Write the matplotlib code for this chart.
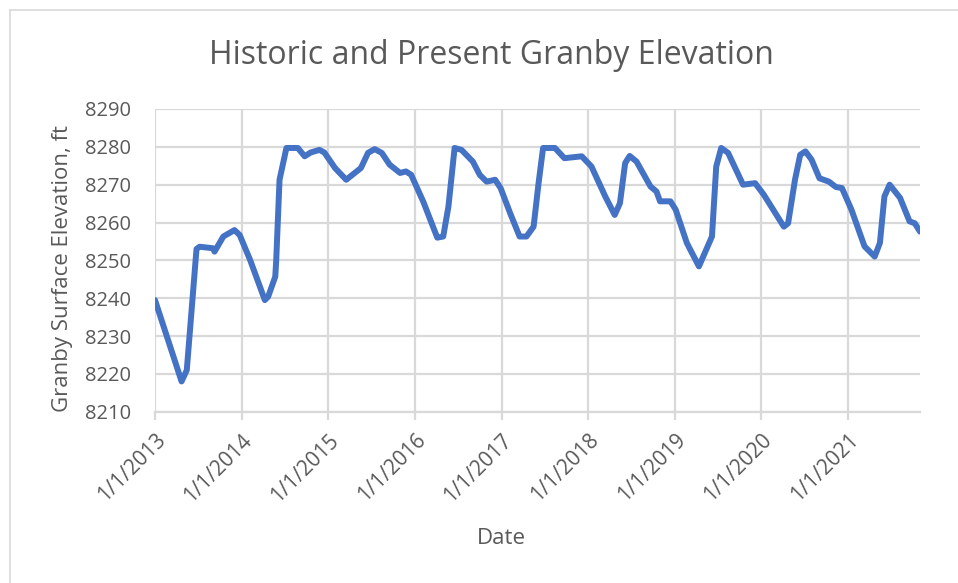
import matplotlib.pyplot as plt
import matplotlib.dates as mdates
import numpy as np
import pandas as pd
from matplotlib.lines import Line2D

# Granby reservoir surface elevation
dates = ['2013-01-01', '2013-04-23', '2013-05-15', '2013-06-25', '2013-07-08',
         '2013-09-02', '2013-09-09', '2013-10-16', '2013-12-02', '2013-12-24',
         '2014-02-06', '2014-04-09', '2014-04-23', '2014-05-23', '2014-05-27',
         '2014-06-10', '2014-07-09', '2014-08-26', '2014-09-24', '2014-10-19',
         '2014-11-25', '2014-12-16', '2015-01-30', '2015-03-18', '2015-05-19',
         '2015-06-18', '2015-07-16', '2015-08-15', '2015-09-17', '2015-10-31',
         '2015-11-25', '2015-12-17', '2016-02-06', '2016-04-05', '2016-04-30',
         '2016-05-22', '2016-06-17', '2016-07-16', '2016-09-02', '2016-10-01',
         '2016-10-30', '2016-12-05', '2016-12-28', '2017-02-06', '2017-03-18',
         '2017-04-16', '2017-05-16', '2017-06-06', '2017-06-25', '2017-08-14',
         '2017-09-23', '2017-12-05', '2018-01-15', '2018-03-14', '2018-04-23',
         '2018-05-15', '2018-06-06', '2018-06-25', '2018-07-24', '2018-09-21',
         '2018-10-16', '2018-10-31', '2018-12-14', '2019-01-05', '2019-02-21',
         '2019-04-13', '2019-06-07', '2019-06-25', '2019-07-16', '2019-08-14',
         '2019-10-16', '2019-12-06', '2020-01-12', '2020-04-05', '2020-04-23',
         '2020-05-22', '2020-06-13', '2020-07-05', '2020-07-31', '2020-09-02',
         '2020-10-12', '2020-11-10', '2020-12-06', '2021-01-15', '2021-03-11',
         '2021-04-23', '2021-05-15', '2021-06-03', '2021-06-25', '2021-08-08',
         '2021-09-17', '2021-10-09', '2021-10-31']
elevation = [8239.5, 8218.0, 8221.0, 8253.0, 8253.6,
             8253.2, 8252.3, 8256.3, 8258.0, 8256.7,
             8250.1, 8239.5, 8240.4, 8245.7, 8250.0,
             8271.3, 8279.7, 8279.7, 8277.5, 8278.5,
             8279.2, 8278.5, 8274.4, 8271.3, 8274.4,
             8278.4, 8279.4, 8278.4, 8275.3, 8273.1,
             8273.5, 8272.6, 8265.5, 8256.0, 8256.3,
             8264.2, 8279.7, 8279.2, 8276.1, 8272.6,
             8270.8, 8271.3, 8269.1, 8262.5, 8256.3,
             8256.3, 8258.9, 8270.4, 8279.7, 8279.7,
             8277.0, 8277.5, 8274.8, 8266.9, 8262.0,
             8265.1, 8275.7, 8277.6, 8276.1, 8269.5,
             8268.2, 8265.6, 8265.6, 8263.4, 8254.6,
             8248.4, 8256.3, 8274.8, 8279.7, 8278.4,
             8270.0, 8270.4, 8267.3, 8258.9, 8259.8,
             8271.3, 8277.9, 8278.8, 8276.6, 8271.7,
             8270.8, 8269.4, 8269.1, 8263.4, 8253.7,
             8251.0, 8254.6, 8266.9, 8270.0, 8266.5,
             8260.3, 8259.8, 8257.6]
year_ticks = ['2013-01-01', '2014-01-01', '2015-01-01', '2016-01-01', '2017-01-01',
              '2018-01-01', '2019-01-01', '2020-01-01', '2021-01-01']
y_ticks = [8210, 8220, 8230, 8240, 8250, 8260, 8270, 8280, 8290]

dates = pd.to_datetime(dates)
year_ticks = pd.to_datetime(year_ticks)

plt.rcParams['font.family'] = ['Open Sans', 'DejaVu Sans']
text_color = '#595959'
grid_color = '#d9d9d9'
line_color = '#4472c4'

fig = plt.figure(figsize=(9.58, 5.83), dpi=100)
ax = fig.add_axes([155 / 958, 1 - 411.7 / 583, (920 - 155) / 958, (411.7 - 109) / 583])

ax.plot(dates, elevation, color=line_color, lw=4.3, solid_joinstyle='round',
        solid_capstyle='round', zorder=3)

ax.set_xlim(dates[0], dates[-1])
ax.set_ylim(8210, 8290)
ax.set_yticks(y_ticks)
ax.set_xticks(year_ticks)
ax.xaxis.set_major_formatter(
    plt.FuncFormatter(lambda v, p: '1/1/%d' % mdates.num2date(v).year))

ax.grid(True, color=grid_color, lw=1.6, zorder=0)
for s in ['top', 'right', 'left']:
    ax.spines[s].set_visible(False)
ax.spines['bottom'].set_color(grid_color)
ax.spines['bottom'].set_linewidth(1.6)

ax.tick_params(axis='y', length=0, pad=17, labelsize=14.5, labelcolor=text_color)
ax.tick_params(axis='x', length=6, width=1.6, color=grid_color, pad=7,
               labelsize=15, labelcolor=text_color)
for lab in ax.get_xticklabels():
    lab.set_rotation(45)
    lab.set_ha('right')
    lab.set_rotation_mode('anchor')

fig.text(491 / 958, 1 - 55 / 583, 'Historic and Present Granby Elevation',
         ha='center', va='center', fontsize=23, color=text_color)
fig.text(63 / 958, 1 - 268 / 583, 'Granby Surface Elevation, ft', rotation=90,
         ha='center', va='center', fontsize=16, color=text_color)
fig.text(501 / 958, 1 - 538 / 583, 'Date', ha='center', va='center',
         fontsize=16, color=text_color)

# chart border (Excel chart area)
fig.add_artist(Line2D([10 / 958, 1], [1 - 10 / 583, 1 - 10 / 583], color=grid_color, lw=1.2))
fig.add_artist(Line2D([10 / 958, 10 / 958], [0, 1 - 10 / 583], color=grid_color, lw=1.2))

fig.savefig('out.png', dpi=100)
